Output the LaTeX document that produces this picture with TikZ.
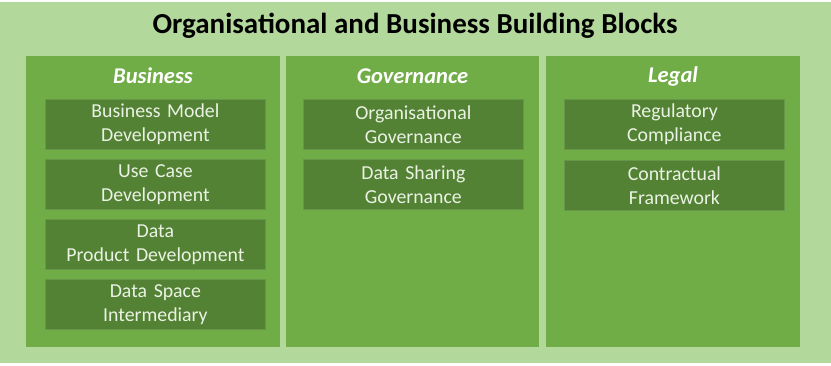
\documentclass[tikz,border=0pt]{standalone}
\usepackage{fontspec}
\setmainfont{Carlito}
\usepackage{xcolor}
\definecolor{paleGreen}{HTML}{B3D89C}
\definecolor{midGreen}{HTML}{70AD47}
\definecolor{darkGreen}{HTML}{548235}
\definecolor{edgeGreen}{HTML}{65964A}
\definecolor{paleText}{HTML}{EAF2E4}

\tikzset{
	column/.style={fill=midGreen, draw=none, inner sep=0pt, anchor=north west, minimum height=291pt},
	header/.style={text=white, font=\fontsize{22.5}{26}\selectfont\bfseries\itshape},
	block/.style={fill=darkGreen, draw=edgeGreen, line width=0.8pt, inner sep=0pt, anchor=north west,
		minimum width=220pt, minimum height=50pt, text width=220pt, align=center,
		text=paleText, font=\fontsize{19.8}{24}\selectfont}
}

\begin{document}
\begin{tikzpicture}[x=1pt, y=-1pt]
	\useasboundingbox[fill=white] (0,0) rectangle (831,365);
	\fill[paleGreen] (0,2) rectangle (831,363);
	
	\node[font=\fontsize{29}{34}\selectfont\bfseries] (title) at (415,26) {Organisational and Business Building Blocks};
	
	% columns
	\node[column, minimum width=254pt] (business) at (26,56) {};
	\node[column, minimum width=253pt] (governance) at (286,56) {};
	\node[column, minimum width=254pt] (legal) at (546,56) {};
	
	\node[header] (businesshead) at (153,76) {Business};
	\node[header] (governancehead) at (412.5,76) {Governance};
	\node[header] (legalhead) at (673,76) {Legal};
	
	% business blocks
	\node[block] (bmodel) at (45,99) {Business Model\\Development};
	\node[block] (usecase) at (45,159) {Use Case\\Development};
	\node[block] (dataprod) at (45,219) {Data\\Product Development};
	\node[block] (intermed) at (45,279) {Data Space\\Intermediary};
	
	% governance blocks
	\node[block] (orggov) at (303,99) {Organisational\\Governance};
	\node[block] (sharegov) at (303,159) {Data Sharing\\Governance};
	
	% legal blocks
	\node[block] (regcomp) at (564,99) {Regulatory\\Compliance};
	\node[block] (contract) at (564,160) {Contractual\\Framework};
	
\end{tikzpicture}
\end{document}
